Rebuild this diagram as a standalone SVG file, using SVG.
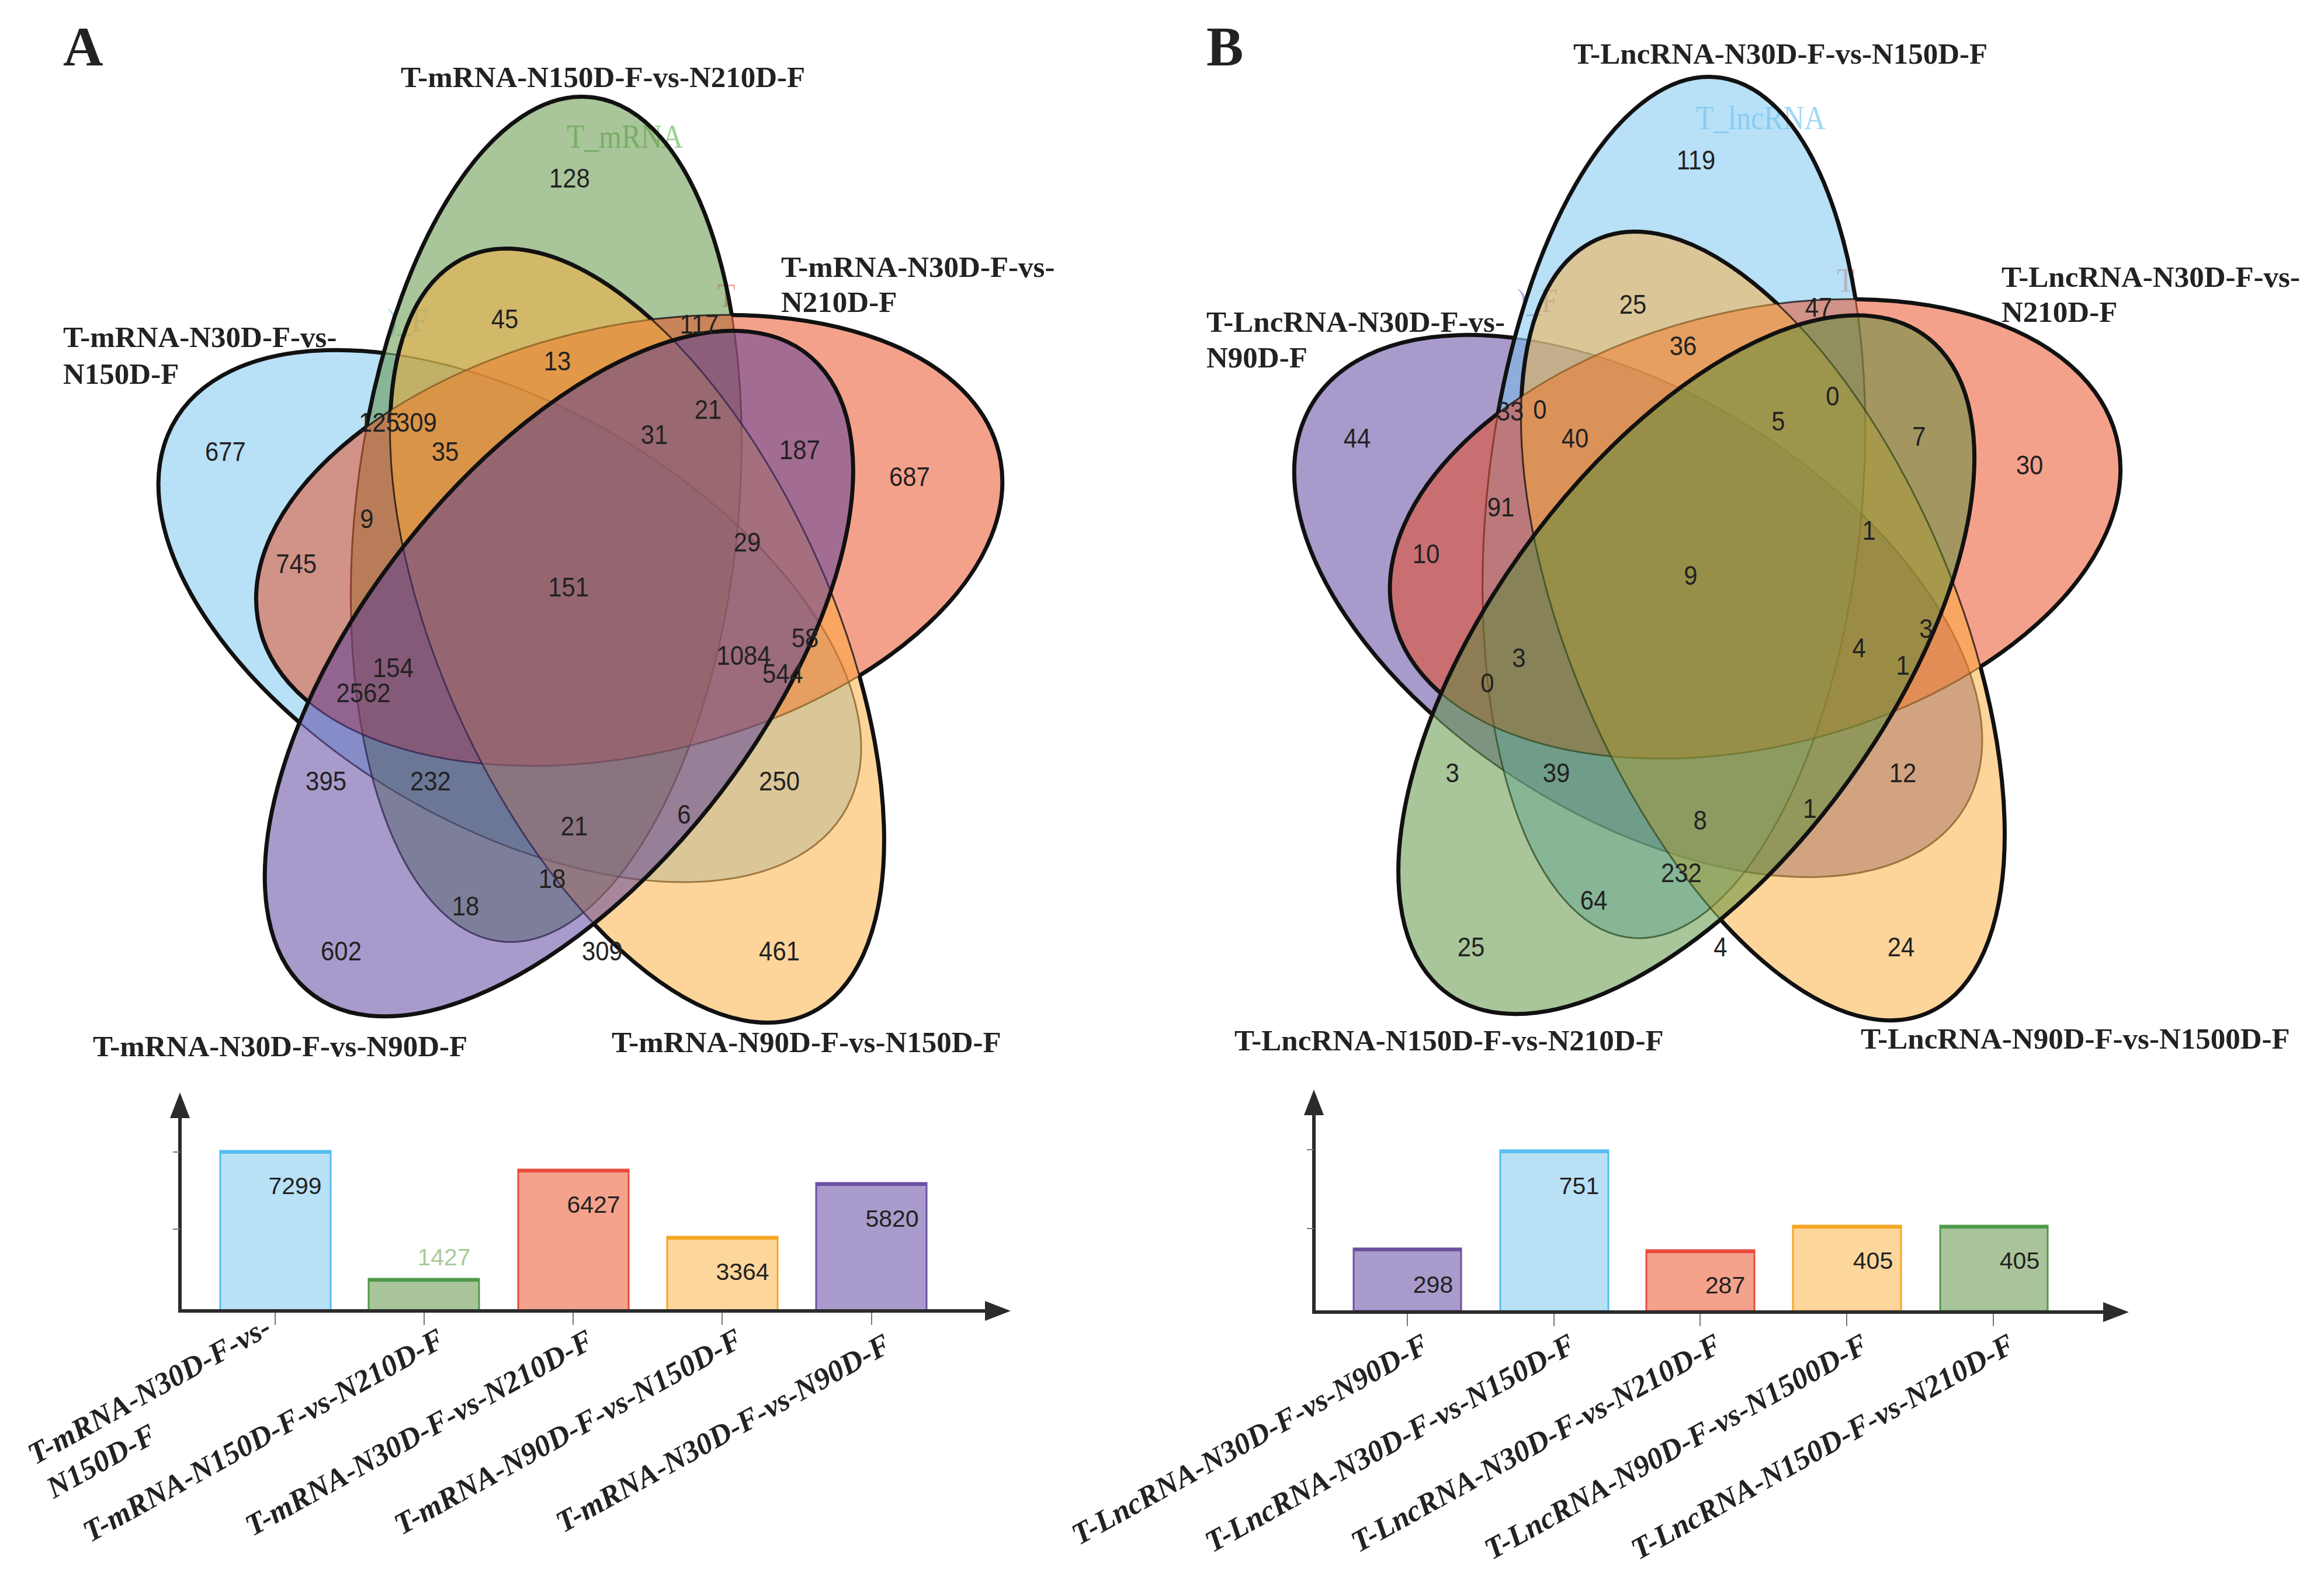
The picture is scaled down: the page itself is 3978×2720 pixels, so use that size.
<svg xmlns="http://www.w3.org/2000/svg" xmlns:xlink="http://www.w3.org/1999/xlink" width="3978" height="2720" viewBox="0 0 3978 2720">
<style>
.lbl{font-family:"Liberation Serif","Times New Roman",serif;font-weight:bold;font-size:51px;fill:#222}
.pl{font-size:95px}
.num{font-family:"Liberation Sans",Arial,sans-serif;font-size:47px;fill:#222;text-anchor:middle}
.bnum{font-family:"Liberation Sans",Arial,sans-serif;font-size:41px;fill:#222;text-anchor:middle}
.xl{font-family:"Liberation Serif","Times New Roman",serif;font-weight:bold;font-style:italic;font-size:52px;fill:#222}
.ghost{font-family:"Liberation Serif","Times New Roman",serif;font-size:56px}
.set{fill-opacity:0.5;stroke:#000;stroke-opacity:0.7;stroke-width:3}
.thick{fill:none;stroke:#111;stroke-width:7}
.axis{stroke:#2b2b2b;stroke-width:6;fill:none}
.tick{stroke:#777;stroke-width:2}
</style>
<defs>
<ellipse id="p1" cx="872.6" cy="937.4" rx="647" ry="327" transform="rotate(25.3 872.6 937.4)" vector-effect="non-scaling-stroke"/>
<ellipse id="p2" cx="935" cy="790.2" rx="647" ry="327" transform="rotate(-82.7 935 790.2)" vector-effect="non-scaling-stroke"/>
<ellipse id="p3" cx="1077.1" cy="822.2" rx="647" ry="327" transform="rotate(-10.7 1077.1 822.2)" vector-effect="non-scaling-stroke"/>
<ellipse id="p4" cx="1090.5" cy="967.2" rx="647" ry="327" transform="rotate(61.3 1090.5 967.2)" vector-effect="non-scaling-stroke"/>
<ellipse id="p5" cx="956.8" cy="1024.9" rx="647" ry="327" transform="rotate(133.3 956.8 1024.9)" vector-effect="non-scaling-stroke"/>
<mask id="m1" maskUnits="userSpaceOnUse" x="-500" y="-500" width="3000" height="3000"><rect x="-500" y="-500" width="3000" height="3000" fill="#fff"/><use href="#p2" fill="#000"/><use href="#p3" fill="#000"/><use href="#p4" fill="#000"/><use href="#p5" fill="#000"/></mask>
<mask id="m2" maskUnits="userSpaceOnUse" x="-500" y="-500" width="3000" height="3000"><rect x="-500" y="-500" width="3000" height="3000" fill="#fff"/><use href="#p3" fill="#000"/><use href="#p4" fill="#000"/><use href="#p5" fill="#000"/></mask>
<mask id="m3" maskUnits="userSpaceOnUse" x="-500" y="-500" width="3000" height="3000"><rect x="-500" y="-500" width="3000" height="3000" fill="#fff"/><use href="#p2" fill="#000"/><use href="#p4" fill="#000"/><use href="#p5" fill="#000"/></mask>
<mask id="m4" maskUnits="userSpaceOnUse" x="-500" y="-500" width="3000" height="3000"><rect x="-500" y="-500" width="3000" height="3000" fill="#fff"/><use href="#p3" fill="#000"/><use href="#p5" fill="#000"/></mask>
<marker id="arr" markerUnits="userSpaceOnUse" markerWidth="46" markerHeight="34" refX="0" refY="17" orient="auto"><path d="M0,0 L44,17 L0,34 z" fill="#2b2b2b"/></marker>
</defs>
<rect width="3978" height="2720" fill="#fff"/>

<g id="ghost-labels" transform="scale(0.89 1)">
<text class="ghost" x="1089.9" y="253" fill="#9ad294">T_mRNA</text>
<text class="ghost" x="745" y="568" fill="#a6dcf7">)_F</text>
<text class="ghost" x="1379.8" y="525" fill="#f7a58e">T</text>
<text class="ghost" x="3261.8" y="221" fill="#9fd8f7">T_lncRNA</text>
<text class="ghost" x="2918" y="534" fill="#b2a8e6">)_F</text>
<text class="ghost" x="3532.6" y="499" fill="#f7a58e">T</text>
</g>

<g id="venn-A" transform="scale(1 1.125)">
<g id="A-mRNA-N30D-vs-N150D"><use href="#p1" class="set" fill="#71c1ed"/></g>
<g id="A-mRNA-N150D-vs-N210D"><use href="#p2" class="set" fill="#538b35"/></g>
<g id="A-mRNA-N30D-vs-N210D"><use href="#p3" class="set" fill="#e94319"/></g>
<g id="A-mRNA-N90D-vs-N150D"><use href="#p4" class="set" fill="#fbab37"/></g>
<g id="A-mRNA-N30D-vs-N90D"><use href="#p5" class="set" fill="#513797"/></g>
<g id="A-outlines">
<use href="#p1" class="thick" mask="url(#m1)"/>
<use href="#p2" class="thick" mask="url(#m2)"/>
<use href="#p3" class="thick" mask="url(#m3)"/>
<use href="#p4" class="thick" mask="url(#m4)"/>
<use href="#p5" class="thick"/>
</g>
</g>

<g id="venn-B" transform="translate(2923.5 939) scale(0.979 1.019) translate(-994.5 -958) scale(1 1.125)">
<g id="B-LncRNA-N30D-vs-N90D"><use href="#p1" class="set" fill="#513797"/></g>
<g id="B-LncRNA-N30D-vs-N150D"><use href="#p2" class="set" fill="#71c1ed"/></g>
<g id="B-LncRNA-N30D-vs-N210D"><use href="#p3" class="set" fill="#e94319"/></g>
<g id="B-LncRNA-N90D-vs-N1500D"><use href="#p4" class="set" fill="#fbab37"/></g>
<g id="B-LncRNA-N150D-vs-N210D"><use href="#p5" class="set" fill="#538b35"/></g>
<g id="B-outlines">
<use href="#p1" class="thick" mask="url(#m1)"/>
<use href="#p2" class="thick" mask="url(#m2)"/>
<use href="#p3" class="thick" mask="url(#m3)"/>
<use href="#p4" class="thick" mask="url(#m4)"/>
<use href="#p5" class="thick"/>
</g>
</g>

<g id="venn-numbers" transform="scale(0.89 1)">
<text class="num" x="729" y="739">125</text>
<text class="num" x="801" y="739">309</text>
<text class="num" x="1095.5" y="321">128</text>
<text class="num" x="970.8" y="562">45</text>
<text class="num" x="1071.9" y="634">13</text>
<text class="num" x="856.2" y="789">35</text>
<text class="num" x="433.7" y="789">677</text>
<text class="num" x="705.6" y="904">9</text>
<text class="num" x="569.7" y="981">745</text>
<text class="num" x="1093.3" y="1021">151</text>
<text class="num" x="756.2" y="1159">154</text>
<text class="num" x="698.9" y="1202">2562</text>
<text class="num" x="627" y="1353">395</text>
<text class="num" x="828.1" y="1353">232</text>
<text class="num" x="1104.5" y="1430">21</text>
<text class="num" x="1061.8" y="1520">18</text>
<text class="num" x="895.5" y="1567">18</text>
<text class="num" x="656.2" y="1644">602</text>
<text class="num" x="1158.4" y="1644">309</text>
<text class="num" x="1498.9" y="1644">461</text>
<text class="num" x="1498.9" y="1353">250</text>
<text class="num" x="1315.7" y="1410">6</text>
<text class="num" x="1430.3" y="1138">1084</text>
<text class="num" x="1505.6" y="1169">544</text>
<text class="num" x="1548.3" y="1108">58</text>
<text class="num" x="1437.1" y="944">29</text>
<text class="num" x="1749.4" y="832">687</text>
<text class="num" x="1538.2" y="786">187</text>
<text class="num" x="1258.4" y="760">31</text>
<text class="num" x="1361.8" y="717">21</text>
<text class="num" x="1344.9" y="571">117</text>

<text class="num" x="3261.8" y="290">119</text>
<text class="num" x="3140.4" y="537">25</text>
<text class="num" x="3237.1" y="608">36</text>
<text class="num" x="2904.5" y="720">33</text>
<text class="num" x="2961.8" y="717">0</text>
<text class="num" x="3029.2" y="766">40</text>
<text class="num" x="2610.1" y="766">44</text>
<text class="num" x="2886.5" y="884">91</text>
<text class="num" x="3497.8" y="542">47</text>
<text class="num" x="3524.7" y="694">0</text>
<text class="num" x="3420.2" y="737">5</text>
<text class="num" x="3691" y="763">7</text>
<text class="num" x="3903.4" y="812">30</text>
<text class="num" x="2742.7" y="964">10</text>
<text class="num" x="3251.7" y="1001">9</text>
<text class="num" x="2921.3" y="1142">3</text>
<text class="num" x="2860.7" y="1185">0</text>
<text class="num" x="2793.3" y="1339">3</text>
<text class="num" x="2993.3" y="1339">39</text>
<text class="num" x="3269.7" y="1420">8</text>
<text class="num" x="3233.7" y="1510">232</text>
<text class="num" x="3065.2" y="1557">64</text>
<text class="num" x="2829.2" y="1637">25</text>
<text class="num" x="3594.4" y="924">1</text>
<text class="num" x="3704.5" y="1092">3</text>
<text class="num" x="3575.3" y="1125">4</text>
<text class="num" x="3659.6" y="1155">1</text>
<text class="num" x="3659.6" y="1339">12</text>
<text class="num" x="3480.9" y="1400">1</text>
<text class="num" x="3309" y="1637">4</text>
<text class="num" x="3656.2" y="1637">24</text>
</g>

<g id="set-labels">
<text class="lbl pl" x="108" y="112">A</text>
<text class="lbl pl" x="2065" y="112">B</text>
<text class="lbl" x="686" y="149">T-mRNA-N150D-F-vs-N210D-F</text>
<text class="lbl" x="108" y="594">T-mRNA-N30D-F-vs-<tspan x="108" y="657">N150D-F</tspan></text>
<text class="lbl" x="1337" y="474">T-mRNA-N30D-F-vs-<tspan x="1337" y="534">N210D-F</tspan></text>
<text class="lbl" x="159" y="1808">T-mRNA-N30D-F-vs-N90D-F</text>
<text class="lbl" x="1047" y="1801">T-mRNA-N90D-F-vs-N150D-F</text>
<text class="lbl" x="2693" y="109">T-LncRNA-N30D-F-vs-N150D-F</text>
<text class="lbl" x="2065" y="568">T-LncRNA-N30D-F-vs-<tspan x="2065" y="629">N90D-F</tspan></text>
<text class="lbl" x="3426" y="491">T-LncRNA-N30D-F-vs-<tspan x="3426" y="551">N210D-F</tspan></text>
<text class="lbl" x="2113" y="1798">T-LncRNA-N150D-F-vs-N210D-F</text>
<text class="lbl" x="3185" y="1795">T-LncRNA-N90D-F-vs-N1500D-F</text>
</g>

<g id="bars-A">
<g id="barA1"><rect x="377" y="1970" width="189" height="274" fill="#b9e1f6" stroke="#55bdf0" stroke-width="3"/><line x1="377" y1="1972" x2="566" y2="1972" stroke="#55bdf0" stroke-width="6"/><text class="bnum" x="505" y="2044">7299</text></g>
<g id="barA2"><rect x="631" y="2189" width="189" height="55" fill="#a9c49a" stroke="#4e9a4a" stroke-width="3"/><line x1="631" y1="2191" x2="820" y2="2191" stroke="#4e9a4a" stroke-width="6"/><text class="bnum" x="760" y="2166" style="fill:#a8cc98">1427</text></g>
<g id="barA3"><rect x="887" y="2002" width="189" height="242" fill="#f4a28c" stroke="#e84a3c" stroke-width="3"/><line x1="887" y1="2004" x2="1076" y2="2004" stroke="#e84a3c" stroke-width="6"/><text class="bnum" x="1016" y="2076">6427</text></g>
<g id="barA4"><rect x="1142" y="2117" width="189" height="127" fill="#fdd69c" stroke="#f5a623" stroke-width="3"/><line x1="1142" y1="2119" x2="1331" y2="2119" stroke="#f5a623" stroke-width="6"/><text class="bnum" x="1271" y="2191">3364</text></g>
<g id="barA5"><rect x="1397" y="2025" width="189" height="219" fill="#a99bcb" stroke="#6b50a0" stroke-width="3"/><line x1="1397" y1="2027" x2="1586" y2="2027" stroke="#6b50a0" stroke-width="6"/><text class="bnum" x="1527" y="2100">5820</text></g>
</g>

<g id="bars-B">
<g id="barB1"><rect x="2317" y="2137" width="184" height="107" fill="#a99bcb" stroke="#6b50a0" stroke-width="3"/><line x1="2317" y1="2139" x2="2501" y2="2139" stroke="#6b50a0" stroke-width="6"/><text class="bnum" x="2453" y="2213">298</text></g>
<g id="barB2"><rect x="2568" y="1969" width="185" height="275" fill="#b9e1f6" stroke="#55bdf0" stroke-width="3"/><line x1="2568" y1="1971" x2="2753" y2="1971" stroke="#55bdf0" stroke-width="6"/><text class="bnum" x="2703" y="2044">751</text></g>
<g id="barB3"><rect x="2818" y="2140" width="185" height="104" fill="#f4a28c" stroke="#e84a3c" stroke-width="3"/><line x1="2818" y1="2142" x2="3003" y2="2142" stroke="#e84a3c" stroke-width="6"/><text class="bnum" x="2953" y="2214">287</text></g>
<g id="barB4"><rect x="3069" y="2098" width="185" height="146" fill="#fdd69c" stroke="#f5a623" stroke-width="3"/><line x1="3069" y1="2100" x2="3254" y2="2100" stroke="#f5a623" stroke-width="6"/><text class="bnum" x="3206" y="2172">405</text></g>
<g id="barB5"><rect x="3321" y="2098" width="184" height="146" fill="#a9c49a" stroke="#4e9a4a" stroke-width="3"/><line x1="3321" y1="2100" x2="3505" y2="2100" stroke="#4e9a4a" stroke-width="6"/><text class="bnum" x="3457" y="2172">405</text></g>
</g>

<g id="connectors">
<line class="axis" x1="308" y1="2247" x2="308" y2="1914" marker-end="url(#arr)"/>
<line class="axis" x1="305" y1="2244" x2="1686" y2="2244" marker-end="url(#arr)"/>
<line class="tick" x1="296" y1="1972" x2="308" y2="1972"/>
<line class="tick" x1="296" y1="2104" x2="308" y2="2104"/>
<line class="tick" x1="471" y1="2247" x2="471" y2="2268"/>
<line class="tick" x1="726" y1="2247" x2="726" y2="2268"/>
<line class="tick" x1="981" y1="2247" x2="981" y2="2268"/>
<line class="tick" x1="1236" y1="2247" x2="1236" y2="2268"/>
<line class="tick" x1="1492" y1="2247" x2="1492" y2="2268"/>
<line class="axis" x1="2249" y1="2249" x2="2249" y2="1909" marker-end="url(#arr)"/>
<line class="axis" x1="2246" y1="2246" x2="3600" y2="2246" marker-end="url(#arr)"/>
<line class="tick" x1="2237" y1="1968" x2="2249" y2="1968"/>
<line class="tick" x1="2237" y1="2103" x2="2249" y2="2103"/>
<line class="tick" x1="2409" y1="2249" x2="2409" y2="2270"/>
<line class="tick" x1="2660" y1="2249" x2="2660" y2="2270"/>
<line class="tick" x1="2910" y1="2249" x2="2910" y2="2270"/>
<line class="tick" x1="3161" y1="2249" x2="3161" y2="2270"/>
<line class="tick" x1="3412" y1="2249" x2="3412" y2="2270"/>
</g>

<g id="bar-labels">
<text class="xl" transform="translate(60 2508) rotate(-29)">T-mRNA-N30D-F-vs-<tspan x="0" dy="66">N150D-F</tspan></text>
<text class="xl" text-anchor="end" transform="translate(764 2303) rotate(-29)">T-mRNA-N150D-F-vs-N210D-F</text>
<text class="xl" text-anchor="end" transform="translate(1019 2305) rotate(-29)">T-mRNA-N30D-F-vs-N210D-F</text>
<text class="xl" text-anchor="end" transform="translate(1274 2303) rotate(-29)">T-mRNA-N90D-F-vs-N150D-F</text>
<text class="xl" text-anchor="end" transform="translate(1528 2312) rotate(-29)">T-mRNA-N30D-F-vs-N90D-F</text>
<text class="xl" text-anchor="end" transform="translate(2449 2312) rotate(-29)">T-LncRNA-N30D-F-vs-N90D-F</text>
<text class="xl" text-anchor="end" transform="translate(2700 2312) rotate(-29)">T-LncRNA-N30D-F-vs-N150D-F</text>
<text class="xl" text-anchor="end" transform="translate(2950 2312) rotate(-29)">T-LncRNA-N30D-F-vs-N210D-F</text>
<text class="xl" text-anchor="end" transform="translate(3201 2312) rotate(-29)">T-LncRNA-N90D-F-vs-N1500D-F</text>
<text class="xl" text-anchor="end" transform="translate(3452 2312) rotate(-29)">T-LncRNA-N150D-F-vs-N210D-F</text>
</g>
</svg>
